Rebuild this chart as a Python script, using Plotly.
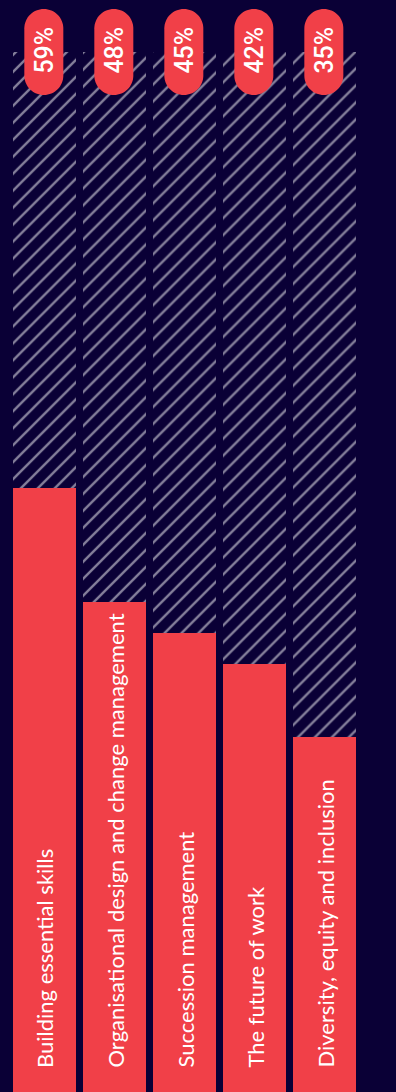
import plotly.graph_objects as go

# Survey topics and share of respondents (%)
categories = [
    "Building essential skills",
    "Organisational design and change management",
    "Succession management",
    "The future of work",
    "Diversity, equity and inclusion",
]
values = [59, 48, 45, 42, 35]
value_labels = ["59%", "48%", "45%", "42%", "35%"]
track_value = 101  # height of the hatched background column

NAVY = "#0a0036"
RED = "#f14048"
HATCH = "#ffffff"

x_idx = list(range(len(categories)))

fig = go.Figure()

# Hatched background columns
fig.add_trace(go.Bar(
    x=x_idx,
    y=[track_value] * len(categories),
    width=0.9,
    marker=dict(
        color=NAVY,
        line=dict(width=0),
        pattern=dict(shape="/", fgcolor=HATCH, bgcolor=NAVY, size=12, solidity=0.2),
    ),
    hoverinfo="skip",
    showlegend=False,
))

# Value bars
fig.add_trace(go.Bar(
    x=x_idx,
    y=values,
    width=0.9,
    marker=dict(color=RED, line=dict(width=0)),
    hovertext=categories,
    showlegend=False,
))


def pill_path(half_w, half_h, offset):
    """Rounded capsule outline in pixel units around the anchor point."""
    k = 0.5523 * half_w
    L, R, c = offset - half_w, offset + half_w, offset
    T, B = half_h, -half_h
    r = half_w
    return (
        f"M{L},{T - r} "
        f"C{L},{T - r + k} {c - k},{T} {c},{T} "
        f"C{c + k},{T} {R},{T - r + k} {R},{T - r} "
        f"L{R},{B + r} "
        f"C{R},{B + r - k} {c + k},{B} {c},{B} "
        f"C{c - k},{B} {L},{B + r - k} {L},{B + r} Z"
    )


shapes = []
annotations = []
for i, (cat, lab) in enumerate(zip(categories, value_labels)):
    # value pill centred on the top of the background column
    shapes.append(dict(
        type="path",
        xref="x", yref="y",
        xsizemode="pixel", ysizemode="pixel",
        xanchor=i, yanchor=track_value,
        path=pill_path(19.5, 43, -0.7),
        fillcolor=RED,
        line=dict(width=0),
        layer="above",
    ))
    annotations.append(dict(
        x=i, y=track_value, xref="x", yref="y",
        text=lab, showarrow=False, textangle=-90,
        xanchor="center", yanchor="middle",
        yshift=2,
        font=dict(family="Roboto", size=25, color="white", weight=500),
    ))
    # category label written upward from the bottom of the bar
    annotations.append(dict(
        x=i, y=0, xref="x", yref="paper",
        text=cat, showarrow=False, textangle=-90,
        xanchor="center", yanchor="bottom",
        yshift=22,
        font=dict(family="Lato", size=22, color="white"),
    ))

fig.update_layout(
    width=396, height=1092,
    margin=dict(l=0, r=0, t=0, b=0),
    paper_bgcolor=NAVY, plot_bgcolor=NAVY,
    barmode="overlay",
    bargap=0,
    xaxis=dict(range=[-0.636, 5.021], visible=False, fixedrange=True),
    yaxis=dict(range=[0.77, 106.02], visible=False, fixedrange=True),
    shapes=shapes,
    annotations=annotations,
    showlegend=False,
)

fig.write_html("out.html")
